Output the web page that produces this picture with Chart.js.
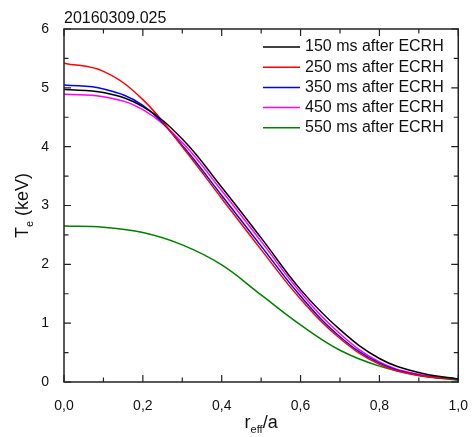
<!DOCTYPE html>
<html>
<head>
<meta charset="utf-8">
<script src="https://cdn.jsdelivr.net/npm/chart.js"></script>
<style>
  html, body { margin: 0; padding: 0; background: #fff; }
  #wrap { width: 476px; height: 437px; }
</style>
</head>
<body>
<div id="wrap"><canvas id="myChart" width="476" height="437"></canvas></div>
<script>
  // DATA
  const rEff = [0.0, 0.1, 0.2, 0.3, 0.4, 0.5, 0.6, 0.7, 0.8, 0.9, 1.0];
  const te150 = [4.97, 4.92, 4.68, 4.13, 3.31, 2.45, 1.57, 0.89, 0.40, 0.16, 0.05];
  const te250 = [5.42, 5.28, 4.80, 4.00, 3.12, 2.25, 1.41, 0.74, 0.30, 0.11, 0.05];
  const te350 = [5.05, 4.98, 4.70, 4.02, 3.17, 2.31, 1.46, 0.77, 0.32, 0.12, 0.05];
  const te450 = [4.89, 4.85, 4.63, 4.07, 3.25, 2.39, 1.52, 0.82, 0.34, 0.13, 0.05];
  const te550 = [2.65, 2.63, 2.54, 2.33, 1.99, 1.48, 0.97, 0.54, 0.27, 0.11, 0.03];
  const seriesLabels = ['150 ms after ECRH', '250 ms after ECRH', '350 ms after ECRH', '450 ms after ECRH', '550 ms after ECRH'];
  const seriesColors = ['#000000', '#ff0000', '#0000ff', '#ff00ff', '#008000'];
  const xTicks = [0, 0.2, 0.4, 0.6, 0.8, 1.0];
  const yTicks = [0, 1, 2, 3, 4, 5, 6];
  const shotTitle = '20160309.025';

  const allSeries = [te150, te250, te350, te450, te550];
  const FONT = '"Liberation Sans", Arial, sans-serif';
  const AXIS = '#222';

  // draws frame, inward ticks, title, axis titles and legend
  const decorPlugin = {
    id: 'decor',
    afterDraw(chart) {
      const ctx = chart.ctx;
      const a = chart.chartArea;
      const xs = chart.scales.x, ys = chart.scales.y;
      ctx.save();
      ctx.strokeStyle = AXIS;
      ctx.lineWidth = 1.5;
      ctx.strokeRect(a.left, a.top, a.right - a.left, a.bottom - a.top);

      ctx.lineWidth = 1.2;
      ctx.beginPath();
      for (let i = 0; i <= 10; i++) {
        const px = xs.getPixelForValue(i / 10);
        const len = i % 2 === 0 ? 7 : 4.5;
        ctx.moveTo(px, a.bottom); ctx.lineTo(px, a.bottom - len);
        ctx.moveTo(px, a.top); ctx.lineTo(px, a.top + len);
      }
      for (let i = 0; i <= 12; i++) {
        const py = ys.getPixelForValue(i / 2);
        const len = i % 2 === 0 ? 7 : 4.5;
        ctx.moveTo(a.left, py); ctx.lineTo(a.left + len, py);
        ctx.moveTo(a.right, py); ctx.lineTo(a.right - len, py);
      }
      ctx.stroke();

      // title
      ctx.fillStyle = '#111';
      ctx.font = '16px ' + FONT;
      ctx.textBaseline = 'alphabetic';
      ctx.textAlign = 'left';
      ctx.fillText(shotTitle, a.left, 23);

      // x axis title r_eff/a
      const cx = (a.left + a.right) / 2;
      ctx.font = '18px ' + FONT;
      const wR = ctx.measureText('r').width;
      const wA = ctx.measureText('/a').width;
      ctx.font = '11px ' + FONT;
      const wS = ctx.measureText('eff').width;
      let x0 = cx - (wR + wS + wA) / 2;
      const base = 428;
      ctx.font = '18px ' + FONT;
      ctx.fillText('r', x0, base);
      ctx.font = '11px ' + FONT;
      ctx.fillText('eff', x0 + wR, base + 5);
      ctx.font = '18px ' + FONT;
      ctx.fillText('/a', x0 + wR + wS, base);

      // y axis title T_e (keV)
      ctx.translate(28, (a.top + a.bottom) / 2);
      ctx.rotate(-Math.PI / 2);
      ctx.font = '18px ' + FONT;
      const wT = ctx.measureText('T').width;
      const wK = ctx.measureText(' (keV)').width;
      ctx.font = '11px ' + FONT;
      const wE = ctx.measureText('e').width;
      x0 = -(wT + wE + wK) / 2;
      ctx.font = '18px ' + FONT;
      ctx.fillText('T', x0, 0);
      ctx.font = '11px ' + FONT;
      ctx.fillText('e', x0 + wT, 5);
      ctx.font = '18px ' + FONT;
      ctx.fillText(' (keV)', x0 + wT + wE, 0);
      ctx.restore();

      // legend
      ctx.save();
      ctx.font = '16px ' + FONT;
      ctx.textBaseline = 'middle';
      chart.data.datasets.forEach((ds, i) => {
        const y = 47 + i * 20.2;
        ctx.strokeStyle = ds.borderColor;
        ctx.lineWidth = 1.5;
        ctx.beginPath();
        ctx.moveTo(263, y); ctx.lineTo(300, y);
        ctx.stroke();
        ctx.fillStyle = '#111';
        ctx.fillText(ds.label, 305, y);
      });
      ctx.restore();
    }
  };

  const ctx = document.getElementById('myChart');
  new Chart(ctx, {
    type: 'line',
    data: {
      datasets: allSeries.map((vals, i) => ({
        label: seriesLabels[i],
        data: rEff.map((r, j) => ({ x: r, y: vals[j] })),
        borderColor: seriesColors[i],
        borderWidth: 1.5,
        pointRadius: 0,
        fill: false,
        tension: 0.4
      }))
    },
    options: {
      responsive: false,
      animation: false,
      layout: { padding: { left: 0, right: 15, top: 29, bottom: 0 } },
      plugins: { legend: { display: false }, tooltip: { enabled: false } },
      scales: {
        x: {
          type: 'linear', min: 0, max: 1,
          grid: { display: false },
          border: { display: false },
          afterBuildTicks: s => { s.ticks = xTicks.map(v => ({ value: v })); },
          afterFit: s => { s.height = 55; },
          ticks: {
            color: '#111', padding: 8,
            font: { family: FONT, size: 14 },
            maxRotation: 0,
            callback: v => v.toFixed(1).replace('.', ',')
          }
        },
        y: {
          min: 0, max: 6,
          grid: { display: false },
          border: { display: false },
          afterBuildTicks: s => { s.ticks = yTicks.map(v => ({ value: v })); },
          afterFit: s => { s.width = 64; },
          ticks: {
            color: '#111', padding: 7,
            font: { family: FONT, size: 14 },
            callback: v => String(v)
          }
        }
      }
    },
    plugins: [decorPlugin]
  });
</script>
</body>
</html>
